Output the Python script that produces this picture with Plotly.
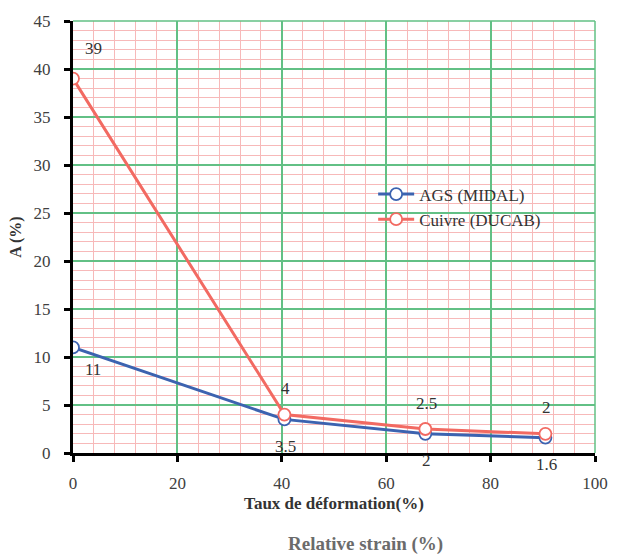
import plotly.graph_objects as go

strain = [0, 40.5, 67.5, 90.5]
ags_values = [11, 3.5, 2, 1.6]
cuivre_values = [39, 4, 2.5, 2]
ags_labels = ["11", "3.5", "2", "1.6"]
cuivre_labels = ["39", "4", "2.5", "2"]
series_names = ["AGS (MIDAL)", "Cuivre (DUCAB)"]
x_ticks = [0, 20, 40, 60, 80, 100]
y_ticks = [0, 5, 10, 15, 20, 25, 30, 35, 40, 45]

BLUE = "#3c63b0"
RED = "#f26a62"
SERIF = "Times New Roman, serif"

fig = go.Figure()
fig.add_trace(go.Scatter(
    x=strain, y=ags_values, name=series_names[0], mode="lines+markers",
    line=dict(color=BLUE, width=3),
    marker=dict(symbol="circle", size=12, color="white", line=dict(color=BLUE, width=1.8)),
))
fig.add_trace(go.Scatter(
    x=strain, y=cuivre_values, name=series_names[1], mode="lines+markers",
    line=dict(color=RED, width=3),
    marker=dict(symbol="circle", size=12, color="white", line=dict(color=RED, width=1.8)),
))

annotations = []
for i, (x, y, t) in enumerate(zip(strain, cuivre_values, cuivre_labels)):
    annotations.append(dict(x=x, y=y, text=t, showarrow=False,
                            xshift=20 if i == 0 else 1, yshift=30 if i == 0 else 26,
                            font=dict(family=SERIF, size=17, color="#333333")))
for i, (x, y, t) in enumerate(zip(strain, ags_values, ags_labels)):
    annotations.append(dict(x=x, y=y, text=t, showarrow=False,
                            xshift=20 if i == 0 else 1, yshift=-22 if i == 0 else -27,
                            font=dict(family=SERIF, size=17, color="#333333")))
annotations.append(dict(x=0.56, y=-0.211, xref="paper", yref="paper",
                        xanchor="center", yanchor="middle",
                        text="<b>Relative strain (%)</b>", showarrow=False,
                        font=dict(family=SERIF, size=19, color="#6b6b6b")))

fig.update_layout(
    width=621, height=554,
    margin=dict(l=73, r=26, t=17, b=101),
    paper_bgcolor="white", plot_bgcolor="white",
    font=dict(family=SERIF, size=17, color="#404040"),
    annotations=annotations,
    legend=dict(x=0.575, y=0.64, xanchor="left", yanchor="top",
                bgcolor="rgba(0,0,0,0)", font=dict(family=SERIF, size=17, color="#333333"),
                tracegroupgap=6, itemwidth=36),
    showlegend=True,
)
fig.update_xaxes(
    range=[0, 100], tickvals=x_ticks, ticktext=[str(v) for v in x_ticks],
    tickfont=dict(family=SERIF, size=17, color="#404040"),
    showline=True, linecolor="black", linewidth=3, mirror=False,
    ticks="outside", ticklen=6, tickwidth=3, tickcolor="black",
    ticklabelstandoff=7,
    showgrid=True, gridcolor="#62c085", gridwidth=1.5,
    minor=dict(dtick=4, showgrid=True, gridcolor="#f7b9b9", gridwidth=1),
    zeroline=False,
    title=dict(text="<b>Taux de déformation(%)</b>", standoff=5,
               font=dict(family=SERIF, size=17, color="#333333")),
)
fig.update_yaxes(
    range=[0, 45], tickvals=y_ticks, ticktext=[str(v) for v in y_ticks],
    tickfont=dict(family=SERIF, size=17, color="#404040"),
    showline=True, linecolor="black", linewidth=3,
    ticks="outside", ticklen=6, tickwidth=3, tickcolor="black",
    ticklabelstandoff=10,
    showgrid=True, gridcolor="#62c085", gridwidth=1.5,
    minor=dict(dtick=1, showgrid=True, gridcolor="#f7b9b9", gridwidth=1),
    zeroline=False,
    title=dict(text="<b>A (%)</b>", standoff=8,
               font=dict(family=SERIF, size=16, color="#333333")),
)
fig.add_shape(type="line", xref="paper", yref="paper", x0=0, x1=1, y0=1, y1=1,
              line=dict(color="#62c085", width=1.5))
fig.add_shape(type="line", xref="paper", yref="paper", x0=1, x1=1, y0=0, y1=1,
              line=dict(color="#62c085", width=1.5))

fig.write_html("out.html")
